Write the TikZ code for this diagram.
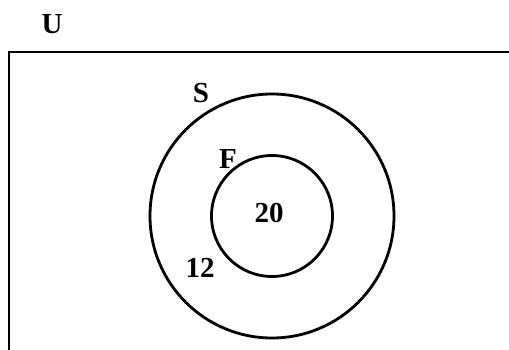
\documentclass[tikz,border=0pt]{standalone}
\usepackage{fontspec}
\setmainfont{Liberation Serif}
\begin{document}
\begin{tikzpicture}[x=1pt,y=-1pt,
  lbl/.style={inner sep=0pt,font=\fontsize{29}{31}\selectfont\bfseries},
  setc/.style={circle,draw,line width=2.8pt,inner sep=0pt}]
\useasboundingbox (0,0) rectangle (509,350);
\draw[line width=2pt] (520,52) -- (9,52) -- (9,360);
\node[setc,minimum size=244pt] (S) at (272,216) {};
\node[setc,minimum size=121pt] (F) at (272,216) {};
\node[lbl] (u) at (52,24) {U};
\node[lbl] (s) at (201,93) {S};
\node[lbl] (f) at (228,159) {F};
\node[lbl] (n20) at (269,213) {20};
\node[lbl] (n12) at (200,268) {12};
\end{tikzpicture}
\end{document}
